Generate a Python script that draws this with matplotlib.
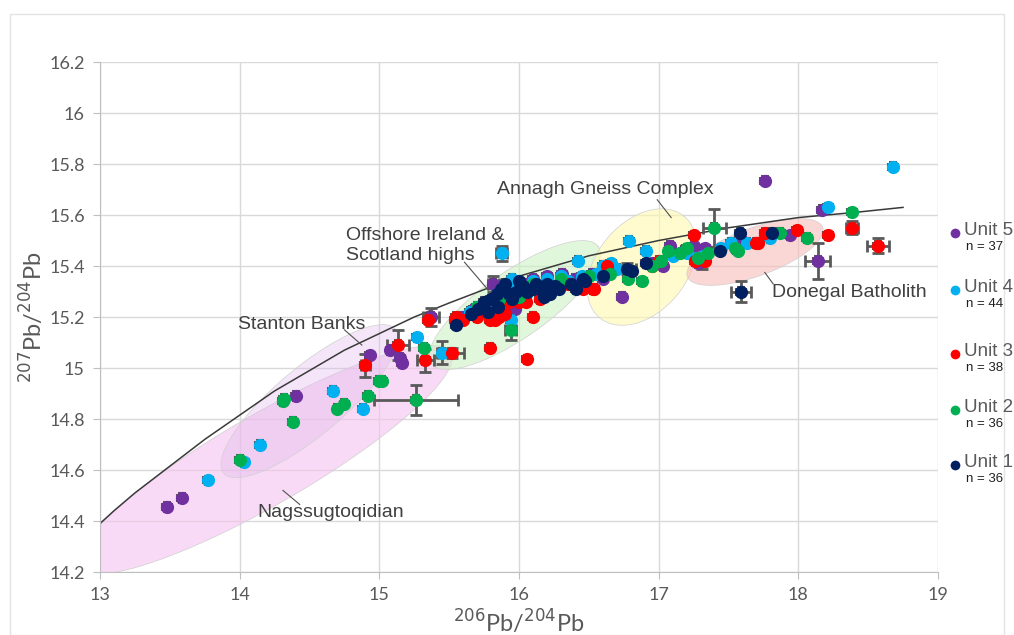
import numpy as np
import matplotlib
matplotlib.use('Agg')
import matplotlib.pyplot as plt
from matplotlib.patches import Rectangle
from matplotlib.lines import Line2D

# --- data (206Pb/204Pb, 207Pb/204Pb) ---
unit5_x = [13.48, 13.59, 14.40, 14.93, 15.08, 15.15, 15.16, 15.37, 15.59, 15.68, 15.815, 15.97, 16.31,
           16.52, 16.555, 16.74, 17.03, 17.08, 17.18, 17.25, 17.33, 17.31, 17.76, 17.94, 18.14, 18.17,
           16.10, 16.40, 16.65, 15.85, 16.20, 17.28, 16.95, 16.05, 15.75, 17.60, 16.60]
unit5_y = [14.455, 14.49, 14.89, 15.05, 15.07, 15.04, 15.02, 15.20, 15.20, 15.23, 15.33, 15.23, 15.37,
           15.37, 15.37, 15.28, 15.40, 15.48, 15.46, 15.48, 15.47, 15.43, 15.735, 15.52, 15.42, 15.62,
           15.35, 15.35, 15.39, 15.26, 15.36, 15.41, 15.41, 15.33, 15.24, 15.50, 15.35]

unit4_x = [13.775, 14.03, 14.145, 14.666, 14.885, 15.27, 15.452, 15.875, 16.42, 15.94, 16.79, 16.91,
           16.66, 17.27, 17.52, 17.63, 18.21, 18.68, 17.32, 16.20, 16.10, 15.98, 15.84, 15.70, 16.35,
           16.00, 15.90, 16.55, 16.80, 17.20, 16.45, 16.05, 15.77, 15.65, 16.25, 16.70, 17.45, 17.80,
           16.15, 15.95, 16.60, 17.10, 16.30, 15.55]
unit4_y = [14.56, 14.63, 14.70, 14.91, 14.84, 15.12, 15.06, 15.45, 15.42, 15.19, 15.50, 15.46,
           15.41, 15.43, 15.49, 15.49, 15.63, 15.79, 15.44, 15.35, 15.34, 15.33, 15.29, 15.24, 15.34,
           15.31, 15.27, 15.37, 15.38, 15.45, 15.36, 15.29, 15.25, 15.22, 15.32, 15.39, 15.47, 15.51,
           15.30, 15.35, 15.40, 15.44, 15.36, 15.18]

unit3_x = [14.90, 15.135, 15.33, 15.35, 15.52, 15.55, 15.54, 15.79, 15.79, 15.83, 15.86, 16.00, 16.05,
           16.06, 16.10, 16.46, 16.53, 16.54, 16.63, 17.25, 17.26, 17.70, 17.76, 17.71, 17.99, 18.21,
           18.385, 18.57, 15.90, 16.20, 16.35, 15.70, 16.95, 17.33, 16.15, 15.93, 17.00, 15.60]
unit3_y = [15.01, 15.09, 15.03, 15.19, 15.06, 15.20, 15.19, 15.08, 15.19, 15.19, 15.20, 15.26, 15.26,
           15.035, 15.20, 15.31, 15.31, 15.31, 15.40, 15.52, 15.42, 15.49, 15.53, 15.49, 15.54, 15.52,
           15.55, 15.48, 15.21, 15.29, 15.33, 15.20, 15.40, 15.42, 15.27, 15.26, 15.42, 15.19]

unit2_x = [14.00, 14.31, 14.32, 14.38, 14.70, 14.75, 14.92, 15.00, 15.02, 15.26, 15.32, 15.94, 15.75,
           16.00, 16.30, 16.65, 16.78, 16.88, 17.02, 17.07, 17.15, 17.40, 17.28, 17.35, 17.57, 17.87,
           18.06, 18.385, 16.20, 15.86, 17.20, 16.95, 17.55, 16.50, 16.10, 15.70]
unit2_y = [14.64, 14.87, 14.88, 14.79, 14.84, 14.86, 14.89, 14.95, 14.95, 14.875, 15.08, 15.15, 15.25,
           15.28, 15.35, 15.37, 15.35, 15.34, 15.42, 15.46, 15.45, 15.55, 15.43, 15.45, 15.46, 15.53,
           15.51, 15.61, 15.30, 15.27, 15.47, 15.40, 15.47, 15.36, 15.33, 15.24]

unit1_x = [15.55, 15.66, 15.71, 15.75, 15.80, 15.84, 15.87, 15.90, 15.93, 15.95, 15.98, 16.03, 16.06,
           16.10, 16.12, 16.15, 16.20, 16.22, 16.26, 16.29, 16.37, 16.41, 16.46, 16.47, 16.60, 16.77,
           16.81, 16.91, 17.44, 17.58, 17.59, 17.81, 15.85, 16.00, 15.78, 16.18]
unit1_y = [15.17, 15.21, 15.23, 15.26, 15.27, 15.29, 15.31, 15.33, 15.29, 15.27, 15.30, 15.32, 15.30,
           15.31, 15.33, 15.31, 15.33, 15.29, 15.32, 15.31, 15.33, 15.31, 15.35, 15.34, 15.36, 15.39,
           15.38, 15.41, 15.46, 15.53, 15.30, 15.53, 15.24, 15.34, 15.22, 15.28]

# points with large error bars: x, y, x error, y error
big_x = [15.26, 15.135, 14.90, 15.33, 15.452, 15.52, 15.37, 15.875, 15.94, 17.40, 17.59, 18.14, 18.57,
         18.385, 15.815, 17.31, 16.77]
big_y = [14.875, 15.09, 15.01, 15.03, 15.06, 15.06, 15.20, 15.45, 15.15, 15.55, 15.30, 15.42, 15.48,
         15.55, 15.33, 15.43, 15.39]
big_dx = [0.30, 0.08, 0.03, 0.06, 0.04, 0.09, 0.06, 0.04, 0.04, 0.08, 0.07, 0.09, 0.08, 0.04, 0.04, 0.05, 0.07]
big_dy = [0.058, 0.06, 0.045, 0.045, 0.045, 0.02, 0.035, 0.03, 0.04, 0.075, 0.04, 0.07, 0.03, 0.025, 0.03, 0.04, 0.02]

# Stacey-Kramers type growth curve
curve_x = [13.0, 13.1, 13.25, 13.5, 13.75, 14.0, 14.25, 14.5, 14.75, 15.0, 15.25, 15.5, 16.0, 16.5,
           17.0, 17.5, 18.0, 18.4, 18.75]
curve_y = [14.39, 14.44, 14.51, 14.615, 14.72, 14.815, 14.91, 14.99, 15.07, 15.135, 15.20, 15.255, 15.36,
           15.44, 15.50, 15.55, 15.59, 15.61, 15.63]

units = ['Unit 5', 'Unit 4', 'Unit 3', 'Unit 2', 'Unit 1']
counts = [37, 44, 38, 36, 36]
colors = ['#7030A0', '#00B0F0', '#FF0000', '#00B050', '#002060']

SX, SY = 139.7, 255.0  # pixels per unit in x and y


def ellipse_pts(cx, cy, a, b, ang):
    t = np.linspace(0, 2 * np.pi, 200)
    th = np.radians(ang)
    u, v = a * np.cos(t), b * np.sin(t)
    return cx + (u * np.cos(th) - v * np.sin(th)) / SX, cy + (u * np.sin(th) + v * np.cos(th)) / SY


plt.rcParams['font.family'] = ['Liberation Sans', 'DejaVu Sans']
fig = plt.figure(figsize=(10.14, 6.35), dpi=100)
fig.patches.append(Rectangle((0.01, 0.0), 0.98, 0.978, transform=fig.transFigure,
                             fill=False, edgecolor='#E3E3E3', lw=1))
ax = fig.add_axes([0.0986, 0.0992, 0.8264, 0.8031])

# shaded fields: centre x, centre y, half length (px), half width (px), angle, colour, alpha
fields = [
    (14.18, 14.64, 215, 45, 30, '#F5C2F0', 0.6),
    (14.50, 14.87, 112, 34, 40, '#E0B8EC', 0.35),
    (15.97, 15.247, 102, 33, 35, '#CDF2C4', 0.6),
    (16.88, 15.396, 66, 45, 50, '#FFF9B0', 0.6),
    (17.69, 15.455, 72, 24, 20, '#F7BDB8', 0.6),
]
for cx, cy, a, b, ang, col, al in fields:
    ex, ey = ellipse_pts(cx, cy, a, b, ang)
    ax.fill(ex, ey, color=col, alpha=al, lw=0, zorder=1)
    ax.plot(ex, ey, color='#D0D0D0', lw=0.5, zorder=1)

ax.plot(curve_x, curve_y, color='#3A3A3A', lw=1.1, zorder=2)

xs = [unit5_x, unit4_x, unit3_x, unit2_x, unit1_x]
ys = [unit5_y, unit4_y, unit3_y, unit2_y, unit1_y]
for x, y in zip(xs, ys):
    ax.errorbar(x, y, xerr=0.035, yerr=0.018, fmt='none', ecolor='#595959',
                elinewidth=1.5, capsize=3, capthick=1.5, zorder=3)
ax.errorbar(big_x, big_y, xerr=big_dx, yerr=big_dy, fmt='none', ecolor='#595959',
            elinewidth=2, capsize=4, capthick=2, zorder=3)
for x, y, c in zip(xs, ys, colors):
    ax.plot(x, y, 'o', color=c, ms=9.5, mec='none', zorder=4)

ax.set_xlim(13, 19)
ax.set_ylim(14.2, 16.2)
ax.set_xticks(np.arange(13, 19.1, 1))
ax.set_yticks(np.round(np.arange(14.2, 16.21, 0.2), 1))
ax.set_yticklabels(['14.2', '14.4', '14.6', '14.8', '15', '15.2', '15.4', '15.6', '15.8', '16', '16.2'])
ax.grid(True, color='#D9D9D9', lw=1)
ax.set_axisbelow(True)
for s in ['top', 'right']:
    ax.spines[s].set_visible(False)
for s in ['left', 'bottom']:
    ax.spines[s].set_color('#BFBFBF')
ax.tick_params(direction='out', length=5, color='#BFBFBF', labelcolor='#595959',
               labelsize=13, pad=6)
for lab in ax.get_xticklabels() + ax.get_yticklabels():
    lab.set_family(['Lato', 'DejaVu Sans'])
ax.set_xlabel(r'$^{206}$Pb/$^{204}$Pb', fontsize=17, color='#595959', labelpad=4)
ax.set_ylabel(r'$^{207}$Pb/$^{204}$Pb', fontsize=17, color='#595959', labelpad=2)
ax.xaxis.label.set_family(['Lato', 'DejaVu Sans'])
ax.yaxis.label.set_family(['Lato', 'DejaVu Sans'])

# field labels with leader lines
lab_kw = dict(fontsize=14, color='#404040', zorder=5)
lead_kw = dict(color='#505050', lw=0.8, zorder=5)
ax.text(14.13, 14.435, 'Nagssugtoqidian', va='center', **lab_kw)
ax.plot([14.31, 14.43], [14.52, 14.465], **lead_kw)
ax.text(13.99, 15.17, 'Stanton Banks', va='center', **lab_kw)
ax.plot([14.75, 14.875], [15.15, 15.09], **lead_kw)
ax.text(14.76, 15.48, 'Offshore Ireland &\nScotland highs', va='center', linespacing=1.25, **lab_kw)
ax.plot([15.61, 15.78], [15.415, 15.306], **lead_kw)
ax.text(16.615, 15.70, 'Annagh Gneiss Complex', va='center', ha='center', **lab_kw)
ax.plot([16.99, 17.09], [15.66, 15.59], **lead_kw)
ax.text(17.81, 15.298, 'Donegal Batholith', va='center', **lab_kw)
ax.plot([17.76, 17.82], [15.375, 15.33], **lead_kw)

# legend on the right
leg_y = [0.633, 0.543, 0.443, 0.354, 0.268]
for u, n, c, yy in zip(units, counts, colors, leg_y):
    fig.add_artist(Line2D([0.942], [yy], marker='o', color=c, ms=7, mec='none',
                          transform=fig.transFigure))
    fig.text(0.951, yy + 0.004, u, fontsize=13.5, color='#595959', va='center')
    fig.text(0.953, yy - 0.022, 'n = %d' % n, fontsize=9.5, color='#202020', va='center')

fig.savefig('out.png', dpi=100)
